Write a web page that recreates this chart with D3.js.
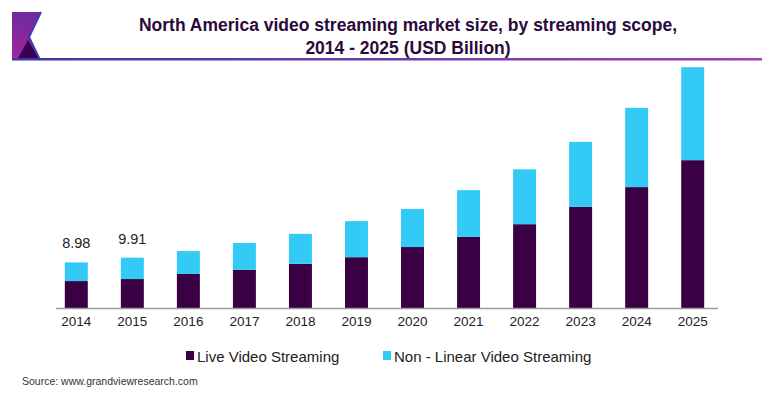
<!DOCTYPE html>
<html lang="en">
<head>
  <meta charset="UTF-8">
  <title>North America video streaming market size</title>
  <script src="https://d3js.org/d3.v7.min.js"></script>
  <style>
    body { margin: 0; background: #fff; }
    svg { display: block; font-family: "Liberation Sans", Arial, sans-serif; }
  </style>
</head>
<body>

<div id="chart"></div>

<script>
// Data (USD Billion)
const years = ["2014", "2015", "2016", "2017", "2018", "2019", "2020", "2021", "2022", "2023", "2024", "2025"];
const liveStreaming = [5.3, 5.7, 6.7, 7.5, 8.7, 10.0, 12.0, 14.0, 16.5, 19.9, 23.8, 29.1];
const nonLinearStreaming = [3.68, 4.21, 4.5, 5.3, 5.9, 7.1, 7.5, 9.2, 10.8, 12.8, 15.6, 18.3];
const totalLabels = ["8.98", "9.91", "", "", "", "", "", "", "", "", "", ""];
const seriesNames = ["Live Video Streaming", "Non - Linear Video Streaming"];
const seriesColors = ["#3a0044", "#33cbf6"];

const width = 773;
const height = 399;

const svg = d3.select("#chart")
  .append("svg")
  .attr("width", width)
  .attr("height", height);

// header: logo + title + rule
const defs = svg.append("defs");
const ruleGrad = defs.append("linearGradient").attr("id", "rule");
ruleGrad.append("stop").attr("offset", "0%").attr("stop-color", "#3a3aa2");
ruleGrad.append("stop").attr("offset", "100%").attr("stop-color", "#a23cb4");
const logoGrad = defs.append("linearGradient").attr("id", "logo")
  .attr("x1", 0).attr("y1", 0).attr("x2", 0).attr("y2", 1);
logoGrad.append("stop").attr("offset", "0%").attr("stop-color", "#6e2a9c");
logoGrad.append("stop").attr("offset", "100%").attr("stop-color", "#a0269e");

svg.append("path")
  .attr("d", "M12,12 L41,12 L29,37 L40,60 L12,60 Z")
  .attr("fill", "url(#logo)");
svg.append("path")
  .attr("d", "M17,60 L28,40 L40,60 Z")
  .attr("fill", "#3c0050");
svg.append("path")
  .attr("d", "M41,12 L29,37 L40,60")
  .attr("fill", "none")
  .attr("stroke", "#3b3ab0")
  .attr("stroke-width", 2);
svg.append("rect")
  .attr("x", 12).attr("y", 58).attr("width", 750).attr("height", 2.5)
  .attr("fill", "url(#rule)");

const title = svg.append("text")
  .attr("text-anchor", "middle")
  .attr("fill", "#2a0a3a")
  .attr("font-weight", "bold")
  .attr("font-size", 17.5);
title.append("tspan").attr("x", 408).attr("y", 31)
  .text("North America video streaming market size, by streaming scope,");
title.append("tspan").attr("x", 408).attr("y", 54)
  .text("2014 - 2025 (USD Billion)");

// scales
const x = d3.scaleBand()
  .domain(years)
  .range([48, 721])
  .paddingInner(0.59)
  .paddingOuter(0.3);

const y = d3.scaleLinear()
  .domain([0, 48])
  .range([308, 308 - 48 * 5.08]);

const rows = years.map((yr, i) => ({
  year: yr,
  live: liveStreaming[i],
  nonLinear: nonLinearStreaming[i]
}));

const stacked = d3.stack().keys(["live", "nonLinear"])(rows);

svg.append("g")
  .selectAll("g")
  .data(stacked)
  .join("g")
  .attr("fill", (d, i) => seriesColors[i])
  .selectAll("rect")
  .data(d => d)
  .join("rect")
  .attr("x", d => x(d.data.year))
  .attr("y", d => y(d[1]))
  .attr("width", x.bandwidth())
  .attr("height", d => y(d[0]) - y(d[1]));

// value labels
svg.append("g")
  .selectAll("text")
  .data(rows.filter((d, i) => totalLabels[i] !== ""))
  .join("text")
  .attr("x", d => x(d.year) + x.bandwidth() / 2)
  .attr("y", d => y(d.live + d.nonLinear) - 14)
  .attr("text-anchor", "middle")
  .attr("font-size", 14.5)
  .attr("fill", "#222")
  .text(d => totalLabels[years.indexOf(d.year)]);

// x axis
const xAxis = svg.append("g")
  .attr("transform", "translate(0,308)")
  .call(d3.axisBottom(x).tickSize(0).tickPadding(8));
xAxis.select(".domain")
  .attr("d", "M56,0.5H718")
  .attr("stroke", "#9a9a9a")
  .attr("stroke-width", 1.5);
xAxis.selectAll("text")
  .attr("font-size", 13.5)
  .attr("fill", "#222")
  .attr("font-family", "Liberation Sans, Arial, sans-serif");

// legend
const legendX = [186, 383];
const legend = svg.append("g")
  .selectAll("g")
  .data(seriesNames)
  .join("g")
  .attr("transform", (d, i) => `translate(${legendX[i]},356)`);
legend.append("rect")
  .attr("x", 0).attr("y", -5)
  .attr("width", 8).attr("height", 9)
  .attr("fill", (d, i) => seriesColors[i]);
legend.append("text")
  .attr("x", 11).attr("y", 5.5)
  .attr("font-size", 15)
  .attr("fill", "#222")
  .text(d => d);

svg.append("text")
  .attr("x", 22).attr("y", 385)
  .attr("font-size", 10.5)
  .attr("fill", "#333")
  .text("Source: www.grandviewresearch.com");
</script>

</body>
</html>
